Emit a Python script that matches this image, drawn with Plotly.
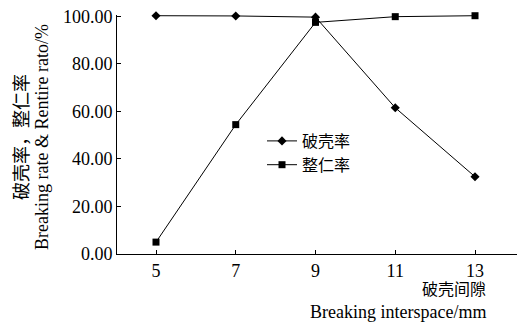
import plotly.graph_objects as go

gap_mm = [5, 7, 9, 11, 13]
breaking_rate = [100.2, 100.1, 99.6, 61.5, 32.5]
rentire_rate = [5.0, 54.4, 97.4, 99.8, 100.2]
y_ticks = [0, 20, 40, 60, 80, 100]
y_tick_text = ["0.00", "20.00", "40.00", "60.00", "80.00", "100.00"]

FONT = "Liberation Serif, Noto Sans CJK SC"

# positions below are in reference-image pixels
L, R, T, B = 117, 517, 15, 254
Y_MAX = 100.5


def px(x):
    return (x - L) / (R - L)


def py(y):
    return (B - y) / (B - T)


fig = go.Figure()
fig.add_trace(go.Scatter(x=gap_mm, y=breaking_rate, mode="lines+markers", name="破壳率",
                         line=dict(color="black", width=1),
                         marker=dict(symbol="diamond", size=7, color="black"),
                         cliponaxis=False))
fig.add_trace(go.Scatter(x=gap_mm, y=rentire_rate, mode="lines+markers", name="整仁率",
                         line=dict(color="black", width=1),
                         marker=dict(symbol="square", size=7, color="black"),
                         cliponaxis=False))

fig.update_layout(
    width=518, height=322,
    margin=dict(l=L, r=518 - R, t=T, b=322 - B),
    paper_bgcolor="white", plot_bgcolor="white",
    font=dict(family=FONT, color="black", size=18),
    legend=dict(x=px(262), y=py(124), xanchor="left", yanchor="top",
                bgcolor="rgba(0,0,0,0)", font=dict(size=16, family=FONT),
                itemwidth=30, tracegroupgap=0),
    xaxis=dict(range=[4.022, 14.053], tickvals=gap_mm, ticks="inside", ticklen=4,
               tickcolor="black", showline=True, linecolor="black", linewidth=1,
               showgrid=False, zeroline=False, tickfont=dict(size=18)),
    yaxis=dict(range=[0, Y_MAX], tickvals=y_ticks, ticktext=y_tick_text, ticks="inside",
               ticklen=4, tickcolor="black", showline=True, linecolor="black", linewidth=1,
               showgrid=False, zeroline=False, tickfont=dict(size=18)),
    annotations=[
        dict(text="破壳率，整仁率", textangle=-90, xref="paper", yref="paper",
             x=px(22), y=py(137), xanchor="center", yanchor="middle",
             showarrow=False, font=dict(size=18)),
        dict(text="Breaking rate & Rentire rato/%", textangle=-90, xref="paper", yref="paper",
             x=px(42), y=py(137), xanchor="center", yanchor="middle",
             showarrow=False, font=dict(size=18)),
        dict(text="破壳间隙", xref="paper", yref="paper",
             x=px(488), y=py(289), xanchor="right", yanchor="middle",
             showarrow=False, font=dict(size=16)),
        dict(text="Breaking interspace/mm", xref="paper", yref="paper",
             x=px(488), y=py(312), xanchor="right", yanchor="middle",
             showarrow=False, font=dict(size=18)),
    ],
)

fig.write_html("out.html", config={"displayModeBar": False},
               post_script="document.body.style.margin='0';")
